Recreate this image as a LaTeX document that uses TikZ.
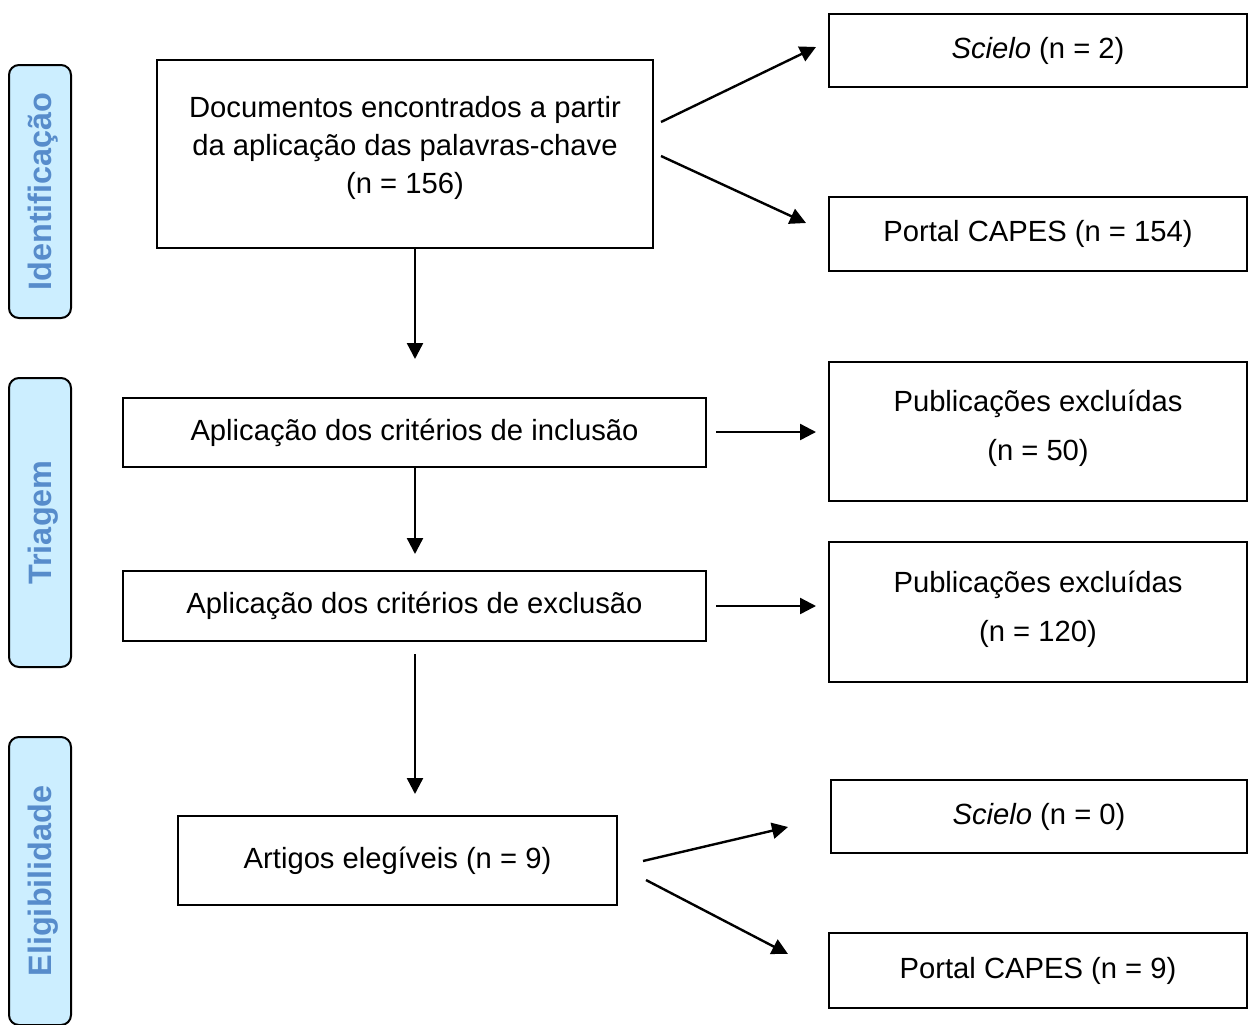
\documentclass[tikz,border=0pt]{standalone}
\usepackage{fontspec}
\setmainfont{Liberation Sans}
\usetikzlibrary{arrows.meta}
\definecolor{sidefill}{HTML}{CCEEFF}
\definecolor{sidetext}{HTML}{578CCB}
\begin{document}
\begin{tikzpicture}[x=0.5pt,y=-0.5pt,
  box/.style={draw, line width=1pt, inner sep=0pt, align=center, font=\fontsize{14.6}{19}\selectfont},
  side/.style={draw, line width=1pt, rounded corners=5pt, fill=sidefill, text=sidetext,
    font=\fontsize{16.2}{19}\selectfont\bfseries, rotate=90, inner sep=0pt,
    text height=11.7pt, text depth=0pt},
  arr/.style={line width=1.2pt, -{Triangle[length=8pt,width=8pt]}}]
\useasboundingbox (0,0) rectangle (1248,1024);

% side labels
\node[side, minimum width=126.5pt, minimum height=31pt] (sid) at (40,191.5) {Identificação};
\node[side, minimum width=144.5pt, minimum height=31pt] (stri) at (40,522.5) {Triagem};
\node[side, minimum width=144pt, minimum height=31pt] (selg) at (40,881) {Eligibilidade};

% boxes
\node[box, minimum width=248pt, minimum height=94pt] (b1) at (405,154)
  {Documentos encontrados a partir\\da aplicação das palavras-chave\\(n = 156)\\[-10pt]};
\node[box, minimum width=209pt, minimum height=36.5pt] (sc2) at (1038,50.5) {\textit{Scielo} (n = 2)};
\node[box, minimum width=209pt, minimum height=37pt] (cp154) at (1038,234) {Portal CAPES (n = 154)};
\node[box, minimum width=291.5pt, minimum height=34.5pt] (inc) at (414.5,432.5) {Aplicação dos critérios de inclusão};
\node[box, minimum width=209pt, minimum height=69.5pt] (ex50) at (1038,431.5) {Publicações excluídas\\[5.5pt](n = 50)\\[-13pt]};
\node[box, minimum width=291.5pt, minimum height=35pt] (exc) at (414.5,606) {Aplicação dos critérios de exclusão};
\node[box, minimum width=209pt, minimum height=70pt] (ex120) at (1038,612) {Publicações excluídas\\[5.5pt](n = 120)\\[-13pt]};
\node[box, minimum width=219.5pt, minimum height=44.5pt] (art) at (397.5,860.5) {Artigos elegíveis (n = 9)};
\node[box, minimum width=208pt, minimum height=36.5pt] (sc0) at (1039,816.5) {\textit{Scielo} (n = 0)};
\node[box, minimum width=209pt, minimum height=37.5pt] (cp9) at (1038,970.5) {Portal CAPES (n = 9)};

% arrow end points
\coordinate (a1s) at (661,122);  \coordinate (a1e) at (816,47);
\coordinate (a2s) at (661,156);  \coordinate (a2e) at (806,223);
\coordinate (d1s) at (415,249);  \coordinate (d1e) at (415,359);
\coordinate (r1s) at (716,432);  \coordinate (r1e) at (816,432);
\coordinate (d2s) at (415,467);  \coordinate (d2e) at (415,554);
\coordinate (r2s) at (716,606);  \coordinate (r2e) at (816,606);
\coordinate (d3s) at (415,654);  \coordinate (d3e) at (415,794);
\coordinate (a5s) at (643,861);  \coordinate (a5e) at (788,827);
\coordinate (a6s) at (646,880);  \coordinate (a6e) at (788,954);

\draw[arr] (a1s) -- (a1e);
\draw[arr] (a2s) -- (a2e);
\draw[arr] (d1s) -- (d1e);
\draw[arr] (r1s) -- (r1e);
\draw[arr] (d2s) -- (d2e);
\draw[arr] (r2s) -- (r2e);
\draw[arr] (d3s) -- (d3e);
\draw[arr] (a5s) -- (a5e);
\draw[arr] (a6s) -- (a6e);
\end{tikzpicture}
\end{document}
